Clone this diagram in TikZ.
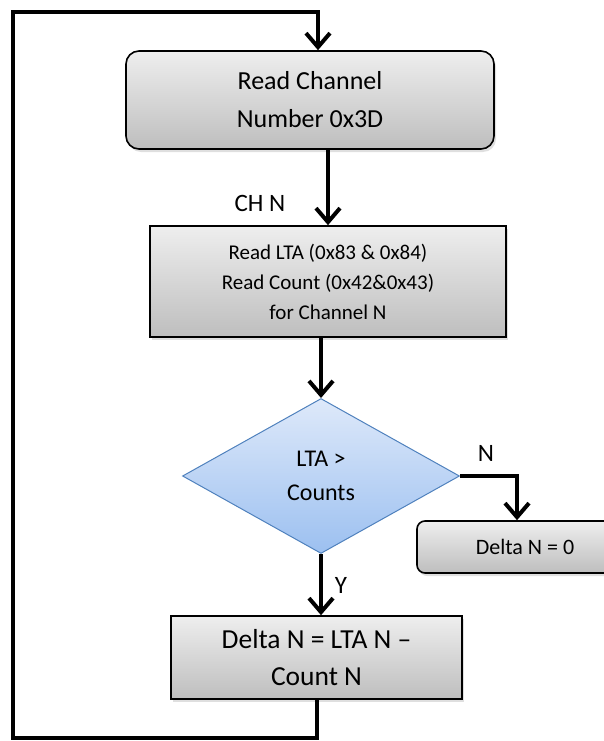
\documentclass[tikz,border=0pt]{standalone}
\usepackage{fontspec}
\setmainfont{Carlito}
\usetikzlibrary{arrows.meta,shapes.geometric,shadows}
\definecolor{boxtop}{RGB}{238,238,238}
\definecolor{boxbot}{RGB}{190,190,190}
\definecolor{diatop}{RGB}{222,233,250}
\definecolor{diabot}{RGB}{156,192,240}
\definecolor{diaedge}{RGB}{79,129,189}
\begin{document}
\begin{tikzpicture}[x=1pt,y=-1pt,
    flow/.style={line width=4pt,-{Straight Barb[length=14pt,width=24pt]}},
    proc/.style={draw,line width=1.6pt,top color=boxtop,bottom color=boxbot,align=center,
        drop shadow={shadow xshift=2pt,shadow yshift=-3pt,opacity=0.25}},
    lbl/.style={font=\fontsize{25}{30}\selectfont}]
                \useasboundingbox (0,0) rectangle (603,741);
                \node[proc,rounded corners=13pt,minimum width=368pt,minimum height=98pt,
                    font=\fontsize{26}{38}\selectfont] (read) at (310,100) {Read Channel\\Number 0x3D};
                \node[proc,minimum width=356pt,minimum height=111pt,
                    font=\fontsize{21}{30}\selectfont] (regs) at (328,281.5)
                    {Read LTA (0x83 \& 0x84)\\Read Count (0x42\&0x43)\\for Channel N};
                \node[diamond,draw=diaedge,line width=1pt,top color=diatop,bottom color=diabot,
                    minimum width=277pt,minimum height=155pt,inner sep=0pt,align=center,
                    font=\fontsize{24}{34}\selectfont] (cmp) at (321,476) {LTA >\\Counts};
                \node[proc,rounded corners=8pt,minimum width=216pt,minimum height=52pt,
                    font=\fontsize{22}{26}\selectfont] (zero) at (525,547) {Delta N = 0};
                \node[proc,minimum width=291pt,minimum height=83pt,
                    font=\fontsize{27.5}{37}\selectfont] (diff) at (316.5,657.5) {Delta N = LTA N –\\Count N};
                \node[lbl] (chn) at (260,203) {CH N};
                \node[lbl] (no) at (486,453) {N};
                \node[lbl] (yes) at (341,585) {Y};
                \coordinate (lb) at (13,738);
                \coordinate (lt) at (13,12);
                \draw[flow] (read.south -| regs.north) -- (regs.north);
                \draw[flow] (regs.south -| cmp.north) -- (cmp.north);
                \draw[flow] (cmp.east) -| ([xshift=-8pt]zero.north);
                \draw[flow] (cmp.south) -- (cmp.south |- diff.north);
                \draw[flow] (diff.south) |- (lb) -- (lt) -| ([xshift=8pt]read.north);
            \end{tikzpicture}
\end{document}
